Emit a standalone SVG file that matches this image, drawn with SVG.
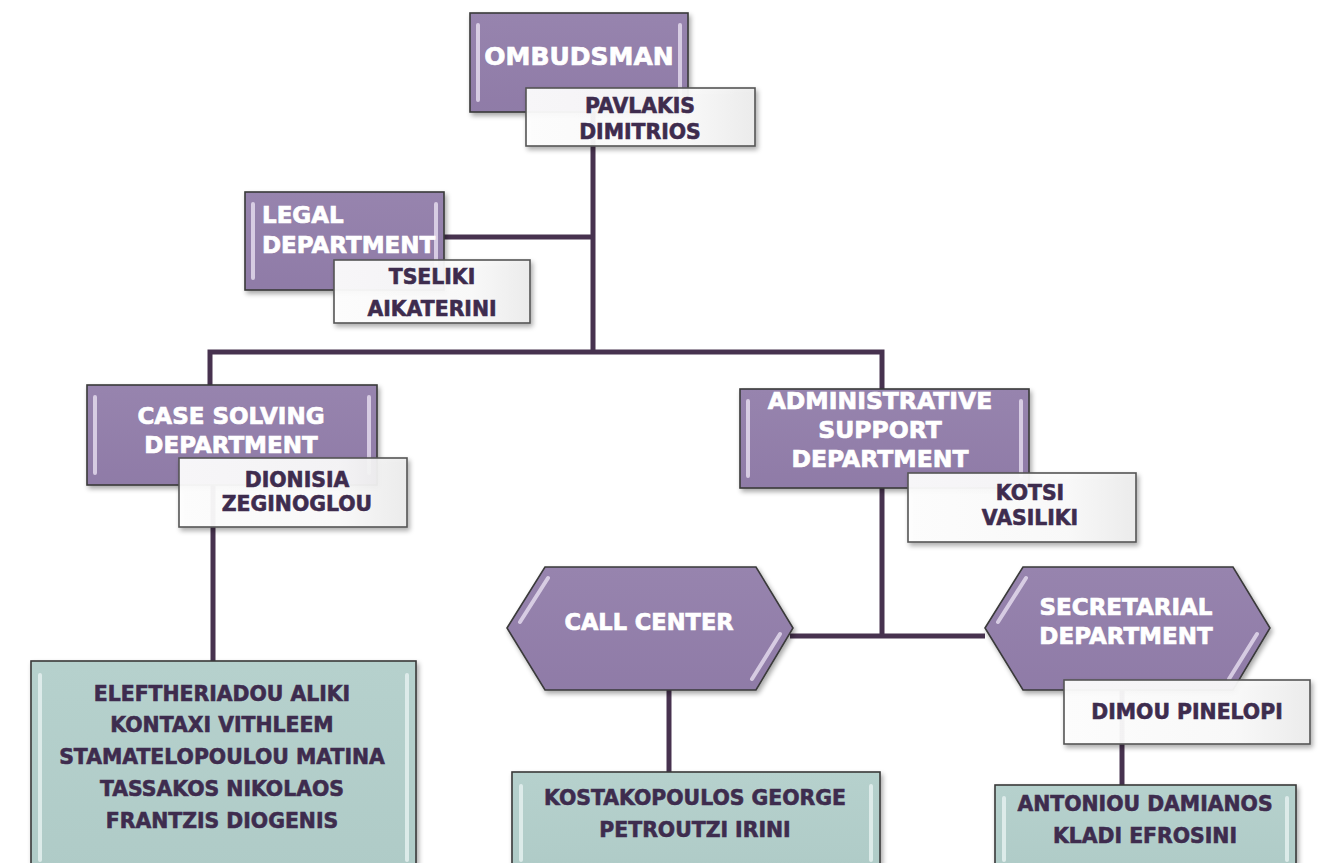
<svg xmlns="http://www.w3.org/2000/svg" width="1319" height="863" viewBox="0 0 1319 863">
<defs>
<linearGradient id="gPurple" x1="0" y1="0" x2="0" y2="1">
<stop offset="0" stop-color="#9784AE"/>
<stop offset="1" stop-color="#8F7BA7"/>
</linearGradient>
<linearGradient id="gWhite" x1="0" y1="0" x2="1" y2="0">
<stop offset="0" stop-color="#FFFFFF"/>
<stop offset="0.7" stop-color="#FBFBFB"/>
<stop offset="1" stop-color="#EDEDED"/>
</linearGradient>
<linearGradient id="gTeal" x1="0" y1="0" x2="0" y2="1">
<stop offset="0" stop-color="#B6D1CD"/>
<stop offset="1" stop-color="#AFCBC7"/>
</linearGradient>
<filter id="sh" x="-10%" y="-10%" width="125%" height="130%">
<feGaussianBlur in="SourceAlpha" stdDeviation="2.5"/>
<feOffset dx="2" dy="3" result="b"/>
<feComponentTransfer><feFuncA type="linear" slope="0.35"/></feComponentTransfer>
<feMerge><feMergeNode/><feMergeNode in="SourceGraphic"/></feMerge>
</filter>
</defs>
<style>
.p{fill:url(#gPurple);stroke:#3A3A3A;stroke-width:1.6}
.w{fill:url(#gWhite);fill-opacity:0.93;stroke:#555;stroke-width:1.6}
.t{fill:url(#gTeal);stroke:#3A3A3A;stroke-width:1.6}
.hl{stroke:#EDE6F5;stroke-width:4;stroke-linecap:round;opacity:0.75;fill:none}
.hlt{stroke:#E4F0EE;stroke-width:4;stroke-linecap:round;opacity:0.85;fill:none}
.c{fill:none;stroke:#47324F;stroke-width:5}
text{font-family:"DejaVu Sans","Verdana",sans-serif;font-weight:bold;text-anchor:middle}
.lt{fill:#FFFFFF;stroke:#FFFFFF;stroke-width:0.7;font-size:23px}
.dt{fill:#3E2C4E;stroke:#3E2C4E;stroke-width:0.6;font-size:20.4px}
</style>
<rect width="1319" height="863" fill="#FFFFFF"/>
<g id="connectors">
<path class="c" d="M593,112 V352"/>
<path class="c" d="M444,237 H593"/>
<path class="c" d="M210,385 V352 H882 V389"/>
<path class="c" d="M213,485 V661"/>
<path class="c" d="M882,488 V636"/>
<path class="c" d="M790,636 H985"/>
<path class="c" d="M669,690 V772"/>
<path class="c" d="M1122,690 V785"/>
</g>
<g id="ombudsman">
<rect class="p" x="470" y="13" width="218" height="99" filter="url(#sh)"/>
<path class="hl" d="M478,25 V100 M680,25 V100"/>
<text class="lt" x="579" y="65" style="font-size:25px">OMBUDSMAN</text>
</g>
<g id="pavlakis">
<rect class="w" x="526" y="88" width="229" height="58" filter="url(#sh)"/>
<text class="dt" x="640" y="113">PAVLAKIS</text>
<text class="dt" x="640" y="139">DIMITRIOS</text>
</g>
<g id="legal">
<rect class="p" x="245" y="192" width="199" height="98" filter="url(#sh)"/>
<path class="hl" d="M253,204 V278 M436,204 V278"/>
<text class="lt" x="262" y="223" style="text-anchor:start">LEGAL</text>
<text class="lt" x="262" y="253" style="text-anchor:start">DEPARTMENT</text>
</g>
<g id="tseliki">
<rect class="w" x="334" y="260" width="196" height="63" filter="url(#sh)"/>
<text class="dt" x="432" y="284">TSELIKI</text>
<text class="dt" x="432" y="316">AIKATERINI</text>
</g>
<g id="case-solving">
<rect class="p" x="87" y="385" width="290" height="100" filter="url(#sh)"/>
<path class="hl" d="M95,397 V473 M369,397 V473"/>
<text class="lt" x="231" y="424">CASE SOLVING</text>
<text class="lt" x="231" y="453">DEPARTMENT</text>
</g>
<g id="dionisia">
<rect class="w" x="179" y="458" width="228" height="69" filter="url(#sh)"/>
<text class="dt" x="297" y="487">DIONISIA</text>
<text class="dt" x="297" y="511">ZEGINOGLOU</text>
</g>
<g id="case-staff">
<rect class="t" x="31" y="661" width="385" height="215" filter="url(#sh)"/>
<path class="hlt" d="M40,675 V860 M407,675 V860"/>
<text class="dt" x="222" y="701">ELEFTHERIADOU ALIKI</text>
<text class="dt" x="222" y="732">KONTAXI VITHLEEM</text>
<text class="dt" x="222" y="764">STAMATELOPOULOU MATINA</text>
<text class="dt" x="222" y="796">TASSAKOS NIKOLAOS</text>
<text class="dt" x="222" y="828">FRANTZIS DIOGENIS</text>
</g>
<g id="administrative">
<rect class="p" x="740" y="389" width="289" height="99" filter="url(#sh)"/>
<path class="hl" d="M748,401 V476 M1021,401 V476"/>
<text class="lt" x="880" y="409" style="font-size:23.5px">ADMINISTRATIVE</text>
<text class="lt" x="880" y="438" style="font-size:23.5px">SUPPORT</text>
<text class="lt" x="880" y="467" style="font-size:23.5px">DEPARTMENT</text>
</g>
<g id="kotsi">
<rect class="w" x="908" y="473" width="228" height="69" filter="url(#sh)"/>
<text class="dt" x="1030" y="500">KOTSI</text>
<text class="dt" x="1030" y="525">VASILIKI</text>
</g>
<g id="call-center">
<polygon class="p" points="507,628 545,567 756,567 793,628 756,690 545,690" filter="url(#sh)"/>
<path class="hl" d="M548,578 L520,622 M780,634 L752,679"/>
<text class="lt" x="649" y="630" style="font-size:22.5px">CALL CENTER</text>
</g>
<g id="call-staff">
<rect class="t" x="512" y="772" width="368" height="100" filter="url(#sh)"/>
<path class="hlt" d="M521,786 V860 M871,786 V860"/>
<text class="dt" x="695" y="805">KOSTAKOPOULOS GEORGE</text>
<text class="dt" x="695" y="837">PETROUTZI IRINI</text>
</g>
<g id="secretarial">
<polygon class="p" points="985,628 1023,567 1233,567 1270,628 1233,690 1023,690" filter="url(#sh)"/>
<path class="hl" d="M1026,578 L998,622 M1257,634 L1229,679"/>
<text class="lt" x="1126" y="615">SECRETARIAL</text>
<text class="lt" x="1126" y="644">DEPARTMENT</text>
</g>
<g id="dimou">
<rect class="w" x="1064" y="680" width="246" height="64" filter="url(#sh)"/>
<text class="dt" x="1187" y="719">DIMOU PINELOPI</text>
</g>
<g id="secretarial-staff">
<rect class="t" x="995" y="785" width="301" height="90" filter="url(#sh)"/>
<path class="hlt" d="M1004,798 V860 M1287,798 V860"/>
<text class="dt" x="1145" y="811">ANTONIOU DAMIANOS</text>
<text class="dt" x="1145" y="843">KLADI EFROSINI</text>
</g>
</svg>
